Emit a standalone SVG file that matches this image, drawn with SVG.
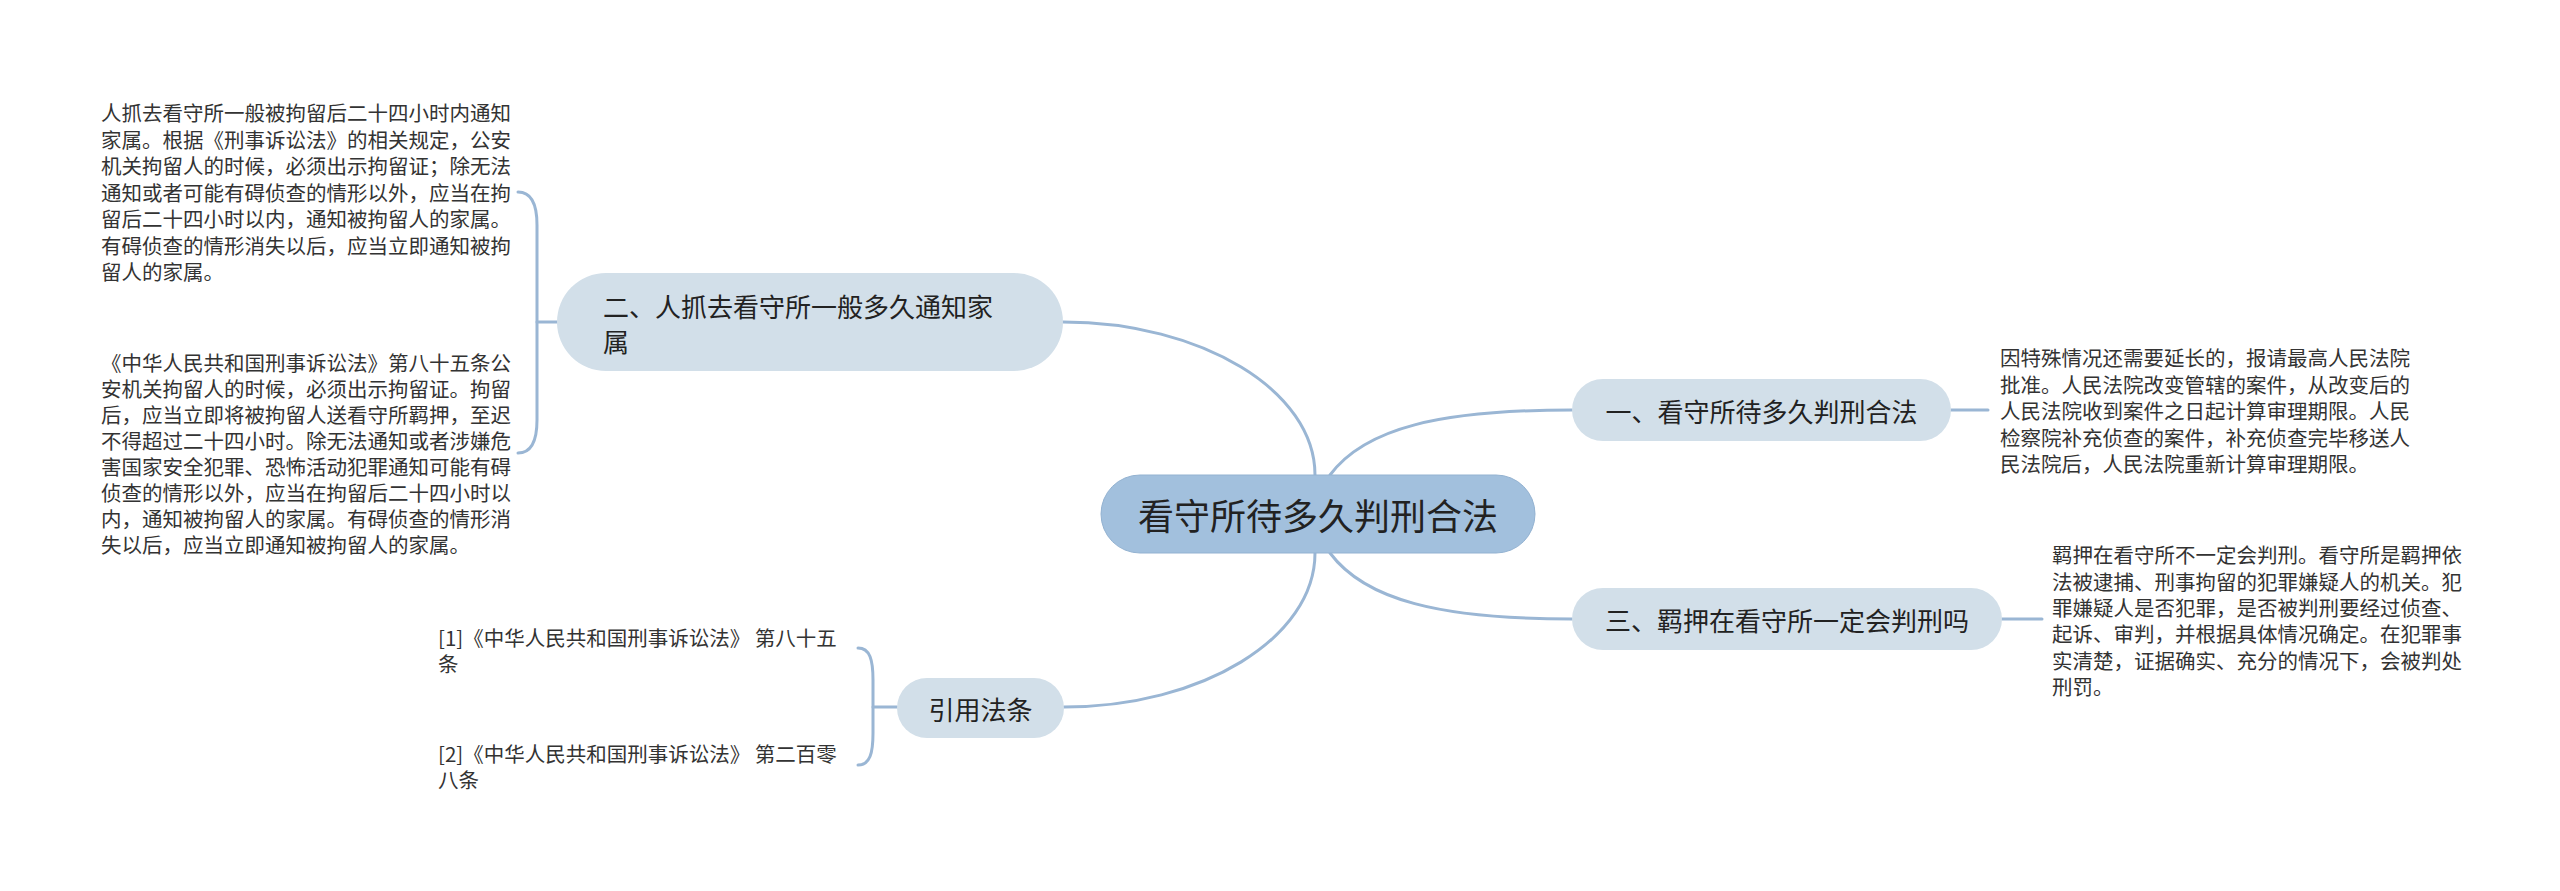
<svg xmlns="http://www.w3.org/2000/svg" width="2560" height="891" viewBox="0 0 2560 891">
<style>
.ln{fill:none;stroke:#9ab6d4;stroke-width:3;stroke-linecap:round}
.t{font-family:"Noto Sans CJK SC","Microsoft YaHei",sans-serif;fill:#222;dominant-baseline:central}
.leaf{font-size:20.5px;fill:#333}
.br{fill:#d2dfe9}
.root{fill:#a2c0dd;stroke:#93b2d1;stroke-width:1}
</style>
<rect width="2560" height="891" fill="#ffffff"/>
<g id="connectors">
<path class="ln" d="M1063 322 C1202 322 1315 391 1315 475 L1315 500"/>
<path class="ln" d="M1320 500 L1330 475 C1365 428 1440 410 1572 410"/>
<path class="ln" d="M1320 528 L1330 553 C1365 600 1440 619 1572 619"/>
<path class="ln" d="M1315 528 L1315 553 C1315 638 1202 707 1064 707"/>
<path class="ln" d="M1951 410 L1988 410"/>
<path class="ln" d="M2002 619 L2042 619"/>
<path class="ln" d="M518 192 C532 192 537 205 537 225 L537 420 C537 440 532 453 518 453"/>
<path class="ln" d="M537 322 L557 322"/>
<path class="ln" d="M858 648 C870 648 873 660 873 680 L873 733 C873 753 870 765 858 765"/>
<path class="ln" d="M873 707 L897 707"/>
</g>
<g id="root">
<rect class="root" x="1101" y="475" width="434" height="78" rx="39"/>
<text class="t" x="1318" y="514" font-size="36" text-anchor="middle">看守所待多久判刑合法</text>
</g>
<g id="n1">
<rect class="br" x="1572" y="379" width="379" height="62" rx="31"/>
<text class="t" x="1761.5" y="410" font-size="26" text-anchor="middle">一、看守所待多久判刑合法</text>
</g>
<g id="n2">
<rect class="br" x="557" y="273" width="506" height="98" rx="49"/>
<text class="t" x="603" y="305" font-size="26">二、人抓去看守所一般多久通知家</text>
<text class="t" x="603" y="340" font-size="26">属</text>
</g>
<g id="n3">
<rect class="br" x="1572" y="588" width="430" height="62" rx="31"/>
<text class="t" x="1787" y="619" font-size="26" text-anchor="middle">三、羁押在看守所一定会判刑吗</text>
</g>
<g id="n4">
<rect class="br" x="897" y="678" width="167" height="60" rx="30"/>
<text class="t" x="980.5" y="708" font-size="26" text-anchor="middle">引用法条</text>
</g>
<g id="leaf1">
<text class="t leaf" x="101" y="112">人抓去看守所一般被拘留后二十四小时内通知</text>
<text class="t leaf" x="101" y="138.5">家属。根据《刑事诉讼法》的相关规定，公安</text>
<text class="t leaf" x="101" y="165">机关拘留人的时候，必须出示拘留证；除无法</text>
<text class="t leaf" x="101" y="191.5">通知或者可能有碍侦查的情形以外，应当在拘</text>
<text class="t leaf" x="101" y="218">留后二十四小时以内，通知被拘留人的家属。</text>
<text class="t leaf" x="101" y="244.5">有碍侦查的情形消失以后，应当立即通知被拘</text>
<text class="t leaf" x="101" y="271">留人的家属。</text>
</g>
<g id="leaf2">
<text class="t leaf" x="101" y="362">《中华人民共和国刑事诉讼法》第八十五条公</text>
<text class="t leaf" x="101" y="388">安机关拘留人的时候，必须出示拘留证。拘留</text>
<text class="t leaf" x="101" y="414">后，应当立即将被拘留人送看守所羁押，至迟</text>
<text class="t leaf" x="101" y="440">不得超过二十四小时。除无法通知或者涉嫌危</text>
<text class="t leaf" x="101" y="466">害国家安全犯罪、恐怖活动犯罪通知可能有碍</text>
<text class="t leaf" x="101" y="492">侦查的情形以外，应当在拘留后二十四小时以</text>
<text class="t leaf" x="101" y="518">内，通知被拘留人的家属。有碍侦查的情形消</text>
<text class="t leaf" x="101" y="544">失以后，应当立即通知被拘留人的家属。</text>
</g>
<g id="leaf3">
<text class="t leaf" x="2000" y="357">因特殊情况还需要延长的，报请最高人民法院</text>
<text class="t leaf" x="2000" y="383.5">批准。人民法院改变管辖的案件，从改变后的</text>
<text class="t leaf" x="2000" y="410">人民法院收到案件之日起计算审理期限。人民</text>
<text class="t leaf" x="2000" y="436.5">检察院补充侦查的案件，补充侦查完毕移送人</text>
<text class="t leaf" x="2000" y="463">民法院后，人民法院重新计算审理期限。</text>
</g>
<g id="leaf4">
<text class="t leaf" x="2052" y="554">羁押在看守所不一定会判刑。看守所是羁押依</text>
<text class="t leaf" x="2052" y="580.5">法被逮捕、刑事拘留的犯罪嫌疑人的机关。犯</text>
<text class="t leaf" x="2052" y="607">罪嫌疑人是否犯罪，是否被判刑要经过侦查、</text>
<text class="t leaf" x="2052" y="633">起诉、审判，并根据具体情况确定。在犯罪事</text>
<text class="t leaf" x="2052" y="659.5">实清楚，证据确实、充分的情况下，会被判处</text>
<text class="t leaf" x="2052" y="686">刑罚。</text>
</g>
<g id="ref1">
<text class="t leaf" x="438" y="637">[1]《中华人民共和国刑事诉讼法》 第八十五</text>
<text class="t leaf" x="438" y="663">条</text>
</g>
<g id="ref2">
<text class="t leaf" x="438" y="753">[2]《中华人民共和国刑事诉讼法》 第二百零</text>
<text class="t leaf" x="438" y="779">八条</text>
</g>
</svg>
